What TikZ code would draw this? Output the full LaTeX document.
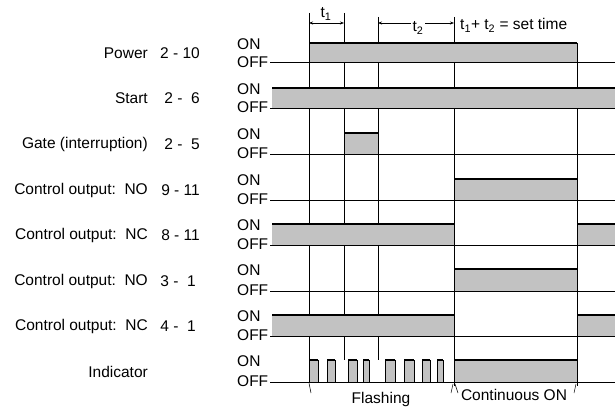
\documentclass[tikz,border=0pt]{standalone}
\usepackage{fontspec}
\setmainfont{Liberation Sans}
\usetikzlibrary{arrows.meta}

\begin{document}
\begin{tikzpicture}[x=1pt,y=-1pt,
    txt/.style={inner sep=0pt,font=\fontsize{15.5}{17}\selectfont},
    lvl/.style={txt,anchor=west},
    sig/.style={line width=0.8pt},
    guide/.style={line width=0.6pt},
    ontop/.style={line width=2pt},
    onfill/.style={fill=black!24},
    brc/.style={line width=0.5pt}]
  \useasboundingbox (0,0) rectangle (615,409);

  % time marks
  \draw[guide] (309,13) -- (309,360);
  \draw[guide] (344,13) -- (344,360);
  \draw[guide] (378,17) -- (378,360);
  \draw[guide] (454,17) -- (454,386);
  \draw[guide] (577,43) -- (577,386);

  % dimensions
  \draw[guide,{Stealth[length=4pt]}-{Stealth[length=4pt]}] (309,23) -- (344,23);
  \node[txt,anchor=base] (tone) at (326,18) {t\textsubscript{1}};
  \draw[guide,{Stealth[length=4pt]}-{Stealth[length=4pt]}] (378,23) -- (454,23);
  \node[txt,anchor=base,fill=white,inner xsep=2pt] (ttwo) at (418,32) {t\textsubscript{2}};
  \node[txt,anchor=base west] (settime) at (460,30) {t\textsubscript{1}+ t\textsubscript{2} = set time};

  % row labels
  \node[txt,anchor=east] (power) at (148,53) {Power};
  \node[txt,anchor=east] (start) at (148,98) {Start};
  \node[txt,anchor=east] (gate) at (148,144) {Gate (interruption)};
  \node[txt,anchor=east] (nonine) at (148,190) {Control output:\ \ NO};
  \node[txt,anchor=east] (nceight) at (148,235) {Control output:\ \ NC};
  \node[txt,anchor=east] (nothree) at (148,281) {Control output:\ \ NO};
  \node[txt,anchor=east] (ncfour) at (148,326) {Control output:\ \ NC};
  \node[txt,anchor=east] (indic) at (148,372) {Indicator};
  \node[txt,anchor=east] at (200,53) {2 - 10};
  \node[txt,anchor=east] at (200,98) {2 -\ \ 6};
  \node[txt,anchor=east] at (200,144) {2 -\ \ 5};
  \node[txt,anchor=east] at (200,190) {9 - 11};
  \node[txt,anchor=east] at (200,235) {8 - 11};
  \node[txt,anchor=east] at (196,281) {3 -\ \ 1};
  \node[txt,anchor=east] at (196,326) {4 -\ \ 1};

  % ON / OFF levels
  \node[lvl] (on1) at (237,44) {ON};   \node[lvl] (off1) at (237,62) {OFF};
  \node[lvl] (on2) at (237,89) {ON};   \node[lvl] (off2) at (237,107) {OFF};
  \node[lvl] (on3) at (237,134) {ON};  \node[lvl] (off3) at (237,153) {OFF};
  \node[lvl] (on4) at (237,180) {ON};  \node[lvl] (off4) at (237,199) {OFF};
  \node[lvl] (on5) at (237,225) {ON};  \node[lvl] (off5) at (237,244) {OFF};
  \node[lvl] (on6) at (237,270) {ON};  \node[lvl] (off6) at (237,290) {OFF};
  \node[lvl] (on7) at (237,316) {ON};  \node[lvl] (off7) at (237,335) {OFF};
  \node[lvl] (on8) at (237,361) {ON};  \node[lvl] (off8) at (237,381) {OFF};

  % Power
  \fill[onfill] (309,43) rectangle (577,62);
  \draw[sig] (270,62) -- (615,62);
  \draw[sig] (309,62) -- (309,43) (577,43) -- (577,62);
  \draw[ontop] (309,43) -- (577,43);
  % Start
  \fill[onfill] (272,88) rectangle (615,108);
  \draw[sig] (270,108) -- (615,108);
  \draw[ontop] (272,88) -- (615,88);
  % Gate
  \fill[onfill] (344,133) rectangle (378,154);
  \draw[sig] (270,154) -- (615,154);
  \draw[sig] (344,154) -- (344,133) (378,133) -- (378,154);
  \draw[ontop] (344,133) -- (378,133);
  % NO 9-11
  \fill[onfill] (454,179) rectangle (577,200);
  \draw[sig] (270,200) -- (615,200);
  \draw[sig] (454,200) -- (454,179) (577,179) -- (577,200);
  \draw[ontop] (454,179) -- (577,179);
  % NC 8-11
  \fill[onfill] (272,224) rectangle (454,245) (577,224) rectangle (615,245);
  \draw[sig] (270,245) -- (615,245);
  \draw[sig] (454,224) -- (454,245) (577,245) -- (577,224);
  \draw[ontop] (272,224) -- (454,224) (577,224) -- (615,224);
  % NO 3-1
  \fill[onfill] (454,269) rectangle (577,291);
  \draw[sig] (270,291) -- (615,291);
  \draw[sig] (454,291) -- (454,269) (577,269) -- (577,291);
  \draw[ontop] (454,269) -- (577,269);
  % NC 4-1
  \fill[onfill] (272,315) rectangle (454,336) (577,315) rectangle (615,336);
  \draw[sig] (270,336) -- (615,336);
  \draw[sig] (454,315) -- (454,336) (577,336) -- (577,315);
  \draw[ontop] (272,315) -- (454,315) (577,315) -- (615,315);
  % Indicator
  \foreach \a/\b in {309/318,327/335,348/357,363/369,385/395,404/414,422/430,437/443,454/577}{
    \fill[onfill] (\a,360) rectangle (\b,382);
    \draw[sig] (\a,382) -- (\a,360) (\b,360) -- (\b,382);
    \draw[ontop] (\a,360) -- (\b,360);
  }
  \draw[sig] (270,382) -- (615,382);

  \draw[brc] (309,383) -- (311,393);
  \draw[brc] (451,393) -- (453,384);
  \draw[brc] (455,384) -- (458,393);
  \draw[brc] (574,393) -- (576,384);
  \node[txt,anchor=base] (flash) at (381,403) {Flashing};
  \node[txt,anchor=base] (cont) at (514,400) {Continuous ON};
\end{tikzpicture}
\end{document}
